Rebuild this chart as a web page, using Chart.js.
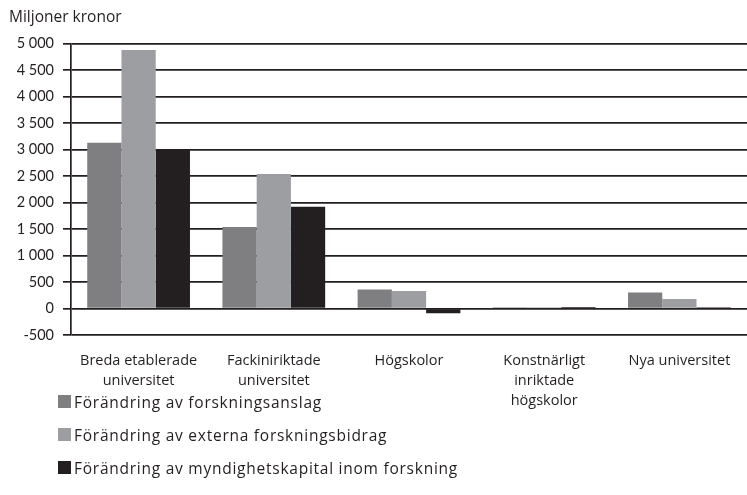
<!DOCTYPE html>
<html>
<head>
<meta charset="utf-8">
<script src="https://cdn.jsdelivr.net/npm/chart.js@4"></script>
<style>
    body { margin: 0; background: #fff; }
    #wrap { position: relative; width: 747px; height: 495px; }
    #legend { position: absolute; left: 58px; top: 391px; font-family: "Open Sans", sans-serif; font-size: 15.5px; letter-spacing: 0.75px; color: #231f20; pointer-events: none; }
    #legend div { height: 33px; display: flex; align-items: flex-start; }
    #legend span.box { display: inline-block; width: 13px; height: 13px; margin: 4px 3px 0 0; }
</style>
</head>
<body>
<div id="wrap">
    <canvas id="chart" width="747" height="495"></canvas>
    <div id="legend"></div>
</div>
<script>
const categories = [
    ['Breda etablerade', 'universitet'],
    ['Fackiniriktade', 'universitet'],
    'Högskolor',
    ['Konstnärligt', 'inriktade', 'högskolor'],
    'Nya universitet'
];

const seriesNames = [
    'Förändring av forskningsanslag',
    'Förändring av externa forskningsbidrag',
    'Förändring av myndighetskapital inom forskning'
];

const anslag = [3130, 1540, 360, 25, 300];
const externa = [4880, 2540, 330, 25, 180];
const kapital = [2990, 1920, -90, 30, 25];

const seriesColors = ['#7f7f82', '#9d9ea1', '#231f20'];
const textColor = '#231f20';

function formatTick(v) {
    const s = String(Math.abs(v)).replace(/\B(?=(\d{3})+(?!\d))/g, ' ');
    return (v < 0 ? '-' : '') + s;
}

const ctx = document.getElementById('chart').getContext('2d');
const chart = new Chart(ctx, {
    type: 'bar',
    data: {
        labels: categories,
        datasets: [anslag, externa, kapital].map((d, i) => ({
            label: seriesNames[i],
            data: d,
            backgroundColor: seriesColors[i],
            categoryPercentage: 0.76,
            barPercentage: 1.0
        }))
    },
    options: {
        responsive: false,
        animation: false,
        layout: { padding: { left: 9, right: 0, top: 0, bottom: 85 } },
        plugins: {
            legend: { display: false },
            tooltip: { enabled: false },
            title: {
                display: true,
                text: 'Miljoner kronor',
                align: 'start',
                color: textColor,
                font: { family: 'Open Sans', size: 15.5, weight: 'normal', lineHeight: 1.2 },
                padding: { top: 8, bottom: 17 }
            }
        },
        scales: {
            x: {
                grid: { display: false },
                border: { display: false },
                ticks: {
                    color: textColor,
                    font: { family: 'Open Sans', size: 14.5, lineHeight: 1.38 },
                    maxRotation: 0,
                    padding: 8
                },
                afterFit: scale => { scale.height = 75; }
            },
            y: {
                min: -500,
                max: 5000,
                grid: { color: textColor, lineWidth: 1.7, tickLength: 8 },
                border: { color: textColor, width: 1.7 },
                ticks: {
                    stepSize: 500,
                    color: textColor,
                    font: { family: 'Lato', size: 14.5 },
                    padding: 9,
                    callback: v => formatTick(v)
                },
                afterFit: scale => { scale.width = 62; }
            }
        }
    }
});

// Legend as a vertical list under the axis labels
const legendEl = document.getElementById('legend');
chart.data.datasets.forEach(ds => {
    const row = document.createElement('div');
    const box = document.createElement('span');
    box.className = 'box';
    box.style.background = ds.backgroundColor;
    row.appendChild(box);
    row.appendChild(document.createTextNode(ds.label));
    legendEl.appendChild(row);
});
</script>
</body>
</html>
